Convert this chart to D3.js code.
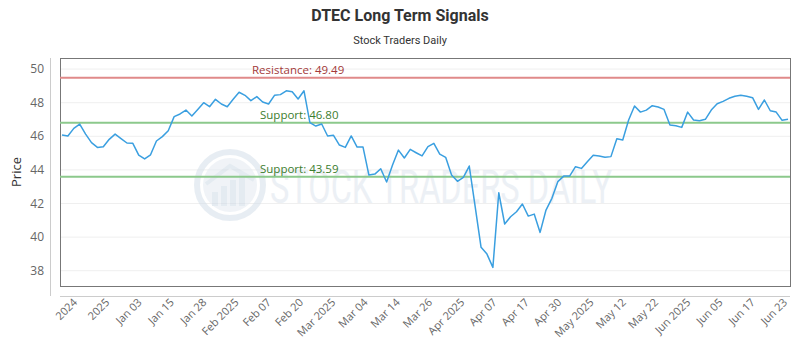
<!DOCTYPE html>
<html>
<head>
<meta charset="utf-8">
<script src="https://cdn.jsdelivr.net/npm/d3@7"></script>
<style>
  body { margin: 0; background: #fff; }
  svg { display: block; font-family: "Open Sans", sans-serif; }
</style>
</head>
<body>
<svg id="chart" width="800" height="350"></svg>
<script>
const prices = [
  46.08, 46.02, 46.47, 46.73, 46.13, 45.62, 45.34, 45.38, 45.82, 46.13,
  45.86, 45.60, 45.58, 44.88, 44.65, 44.90, 45.72, 45.98, 46.33, 47.17,
  47.33, 47.56, 47.21, 47.60, 48.00, 47.76, 48.20, 47.92, 47.76, 48.20,
  48.62, 48.44, 48.12, 48.36, 48.04, 47.92, 48.44, 48.48, 48.71, 48.65,
  48.22, 48.71, 46.81, 46.61, 46.73, 46.02, 46.06, 45.48, 45.34, 46.02,
  45.36, 45.36, 43.69, 43.75, 44.07, 43.28, 44.29, 45.18, 44.71, 45.22,
  45.02, 44.83, 45.38, 45.58, 44.94, 44.75, 43.69, 43.32, 43.56, 44.23,
  41.81, 39.39, 38.99, 38.20, 42.64, 40.78, 41.21, 41.51, 41.97, 41.25,
  41.37, 40.28, 41.61, 42.31, 43.30, 43.63, 43.63, 44.19, 44.09, 44.49,
  44.87, 44.83, 44.75, 44.79, 45.86, 45.78, 46.97, 47.80, 47.44, 47.56,
  47.82, 47.74, 47.60, 46.67, 46.63, 46.53, 47.44, 46.97, 46.93, 47.01,
  47.56, 47.94, 48.08, 48.26, 48.38, 48.44, 48.38, 48.30, 47.60, 48.16,
  47.52, 47.44, 46.95, 47.01
];

const tickLabels = [
  "2024", "2025", "Jan 03", "Jan 15", "Jan 28", "Feb 2025", "Feb 07", "Feb 20",
  "Mar 2025", "Mar 04", "Mar 14", "Mar 26", "Apr 2025", "Apr 07", "Apr 17",
  "Apr 30", "May 2025", "May 12", "May 22", "Jun 2025", "Jun 05", "Jun 17", "Jun 23"
];

const yTicks = [38, 40, 42, 44, 46, 48, 50];

const levelNames = ["Resistance", "Support", "Support"];
const levelValues = [49.49, 46.80, 43.59];

const svg = d3.select("#chart");
const plotLeft = 60, plotRight = 790, plotTop = 58, plotBottom = 286;

const x = d3.scaleLinear().domain([0, prices.length - 1]).range([plotLeft + 2, plotRight - 2]);
const y = d3.scaleLinear().domain([37.09, 50.66]).range([plotBottom, plotTop]);
const xTick = d3.scalePoint().domain(tickLabels).range([plotLeft + 18, plotRight - 2]);

// title
svg.append("text").attr("x", 400).attr("y", 21).attr("text-anchor", "middle")
  .attr("font-size", 16).attr("font-weight", "bold").attr("fill", "#333")
  .attr("font-family", "Roboto, sans-serif")
  .text("DTEC Long Term Signals");
svg.append("text").attr("x", 400).attr("y", 44).attr("text-anchor", "middle")
  .attr("font-size", 11).attr("fill", "#333")
  .attr("font-family", "Roboto, sans-serif")
  .text("Stock Traders Daily");

// grid
svg.append("g").selectAll("line").data(yTicks).enter().append("line")
  .attr("x1", plotLeft).attr("x2", plotRight)
  .attr("y1", d => y(d)).attr("y2", d => y(d))
  .attr("stroke", "#efefef").attr("stroke-width", 1);

// watermark
const wm = svg.append("g").attr("opacity", 0.55);
wm.append("circle").attr("cx", 230).attr("cy", 185).attr("r", 33)
  .attr("fill", "none").attr("stroke", "#d5e0ea").attr("stroke-width", 6);
wm.append("circle").attr("cx", 230).attr("cy", 185).attr("r", 27).attr("fill", "#e4ebf2");
wm.selectAll("rect.wb").data([0, 1, 2, 3]).enter().append("rect")
  .attr("x", (d, i) => 212 + i * 9).attr("y", (d, i) => 192 - i * 6)
  .attr("width", 6).attr("height", (d, i) => 14 + i * 6).attr("fill", "#cfdbe6");
wm.append("path").attr("d", "M206,184 L230,166 L254,180").attr("fill", "none")
  .attr("stroke", "#cfdbe6").attr("stroke-width", 4);
wm.append("text").attr("x", 270).attr("y", 203)
  .attr("font-size", 46).attr("font-family", "Roboto, sans-serif")
  .attr("textLength", 342).attr("lengthAdjust", "spacingAndGlyphs")
  .attr("fill", "#dde5ee").text("STOCK TRADERS DAILY");

// plot frame
svg.append("rect").attr("x", plotLeft + 0.5).attr("y", plotTop + 0.5)
  .attr("width", plotRight - plotLeft).attr("height", plotBottom - plotTop)
  .attr("fill", "none").attr("stroke", "#777").attr("stroke-width", 1);

// offset axis lines
svg.append("line").attr("x1", 50.5).attr("x2", 50.5).attr("y1", plotTop).attr("y2", 296)
  .attr("stroke", "#ccc");
svg.append("line").attr("x1", plotLeft).attr("x2", plotRight).attr("y1", 296.5).attr("y2", 296.5)
  .attr("stroke", "#ccc");

// y tick labels
svg.append("g").selectAll("text").data(yTicks).enter().append("text")
  .attr("x", 44).attr("y", d => y(d)).attr("dy", "0.35em")
  .attr("text-anchor", "end").attr("font-size", 12).attr("fill", "#666")
  .text(d => d);

svg.append("text").attr("transform", "translate(21," + ((plotTop + plotBottom) / 2) + ") rotate(-90)")
  .attr("text-anchor", "middle").attr("font-size", 13).attr("fill", "#333")
  .text("Price");

// x tick labels
svg.append("g").selectAll("text").data(tickLabels).enter().append("text")
  .attr("transform", d => "translate(" + xTick(d) + ",303) rotate(-45)")
  .attr("text-anchor", "end").attr("font-size", 11).attr("fill", "#666")
  .text(d => d);

// levels
const levelColor = ["#e08a8a", "#8cc98c", "#8cc98c"];
const labelColor = ["#a33a3a", "#3b7d2e", "#3b7d2e"];
const lv = svg.append("g");
lv.selectAll("line").data(levelValues).enter().append("line")
  .attr("x1", plotLeft).attr("x2", plotRight)
  .attr("y1", d => y(d)).attr("y2", d => y(d))
  .attr("stroke", (d, i) => levelColor[i]).attr("stroke-width", 2);

// price line
const line = d3.line().x((d, i) => x(i)).y(d => y(d));
svg.append("path").datum(prices).attr("d", line)
  .attr("fill", "none").attr("stroke", "#3a9fe0").attr("stroke-width", 1.5)
  .attr("stroke-linejoin", "round");

lv.selectAll("text").data(levelValues).enter().append("text")
  .attr("x", (d, i) => i === 0 ? 252 : 260).attr("y", d => y(d) - 4)
  .attr("font-size", 11.5).attr("fill", (d, i) => labelColor[i])
  .text((d, i) => levelNames[i] + ": " + d.toFixed(2));
</script>
</body>
</html>
